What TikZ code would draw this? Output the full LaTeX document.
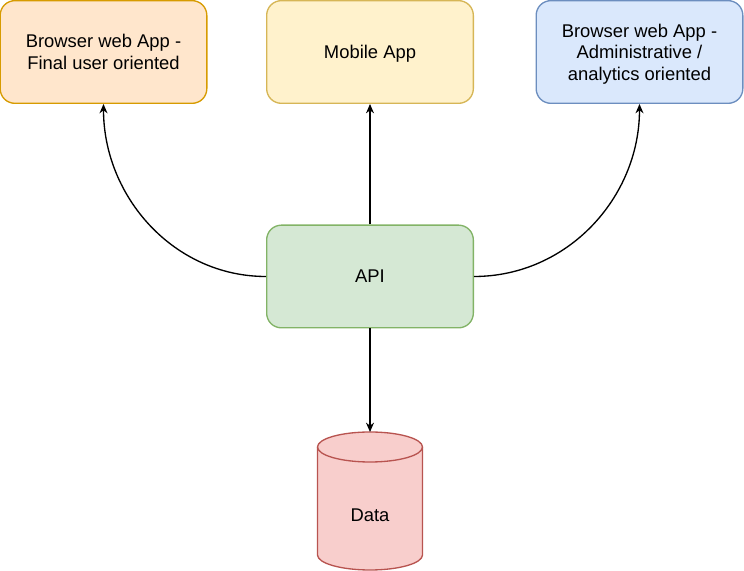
\documentclass[tikz,border=0pt]{standalone}
\usepackage{fontspec}
\setmainfont{Liberation Sans}
\usetikzlibrary{arrows.meta}

\definecolor{orangefill}{HTML}{FFE6CC}
\definecolor{orangeline}{HTML}{D79B00}
\definecolor{yellowfill}{HTML}{FFF2CC}
\definecolor{yellowline}{HTML}{D6B656}
\definecolor{bluefill}{HTML}{DAE8FC}
\definecolor{blueline}{HTML}{6C8EBF}
\definecolor{greenfill}{HTML}{D5E8D4}
\definecolor{greenline}{HTML}{82B366}
\definecolor{redfill}{HTML}{F8CECC}
\definecolor{redline}{HTML}{B85450}

\begin{document}
\begin{tikzpicture}[x=0.75pt, y=0.75pt,
        box/.style={draw, rounded corners=11pt, line width=1pt, minimum width=155pt,
            minimum height=77pt, align=center, inner sep=0pt, text depth=0pt,
            font=\fontsize{13.8}{16.2}\selectfont},
        link/.style={line width=1pt, -{Stealth[length=7pt, width=6pt]}}]
        \useasboundingbox (0, 0) rectangle (744, 571);

        \node[box, fill=orangefill, draw=orangeline] (final) at (103.5, 519) {Browser web App -\\Final user oriented};
        \node[box, fill=yellowfill, draw=yellowline] (mobile) at (370, 519) {Mobile App};
        \node[box, fill=bluefill, draw=blueline] (admin) at (639.5, 519) {Browser web App -\\Administrative /\\analytics oriented};
        \node[box, fill=greenfill, draw=greenline] (api) at (370, 294.5) {API};

        % data store
        \coordinate (datatop) at (370, 139);
        \filldraw[fill=redfill, draw=redline, line width=1pt] (317.5, 124) -- (317.5, 16)
            arc[start angle=180, end angle=360, x radius=52.5, y radius=15] -- (422.5, 124)
            arc[start angle=0, end angle=180, x radius=52.5, y radius=15] -- cycle;
        \draw[redline, line width=1pt] (317.5, 124) arc[start angle=180, end angle=360, x radius=52.5, y radius=15];
        \node[font=\fontsize{13.8}{16.2}\selectfont, text depth=0pt] (data) at (370, 56) {Data};

        \draw[link] (api.north) -- (mobile.south);
        \draw[link] (api.west) to[out=180, in=-90] (final.south);
        \draw[link] (api.east) to[out=0, in=-90] (admin.south);
        \draw[link] (api.south) -- (datatop);
    \end{tikzpicture}
\end{document}
